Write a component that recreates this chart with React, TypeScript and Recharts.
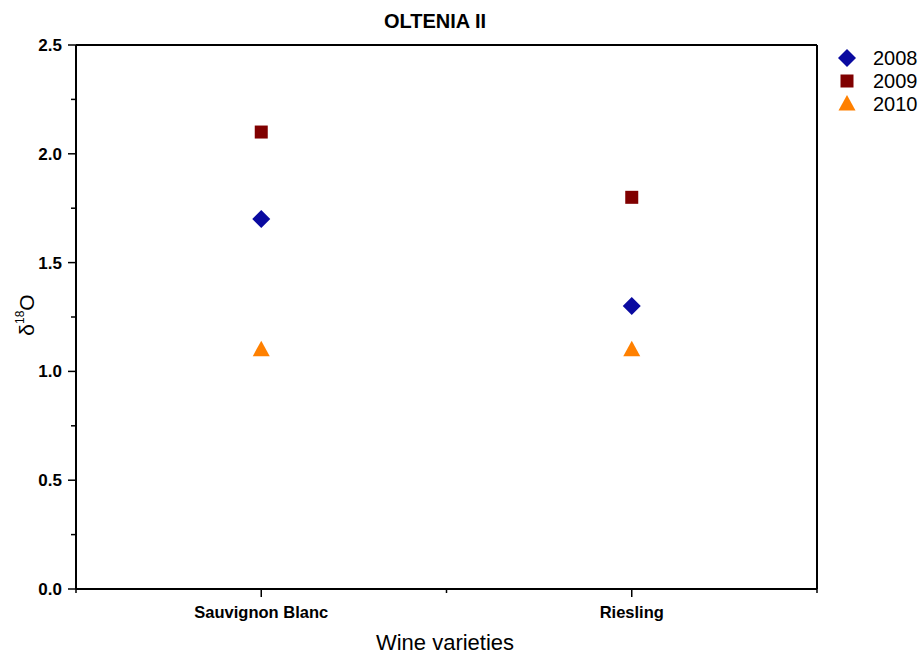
import React from "react";
import { ScatterChart, Scatter, XAxis, YAxis } from "recharts";

const categories = ["Sauvignon Blanc", "Riesling"];
const years = ["2008", "2009", "2010"];
const values2008 = [1.7, 1.3];
const values2009 = [2.1, 1.8];
const values2010 = [1.1, 1.1];
const yTicks = [0, 0.25, 0.5, 0.75, 1, 1.25, 1.5, 1.75, 2, 2.25, 2.5];
const xTicks = [0.5, 1, 1.5, 2, 2.5];

const colors = ["#0a0aa0", "#800000", "#ff8000"];
const FONT = "Arial, 'Liberation Sans', sans-serif";

const toPoints = (vals: number[]) =>
  categories.map((c, i) => ({ x: i + 1, y: vals[i], name: c }));

const Diamond = ({ cx, cy, fill }: any) => (
  <polygon
    points={`${cx},${cy - 9} ${cx + 9},${cy} ${cx},${cy + 9} ${cx - 9},${cy}`}
    fill={fill}
  />
);
const Square = ({ cx, cy, fill }: any) => (
  <rect x={cx - 6.5} y={cy - 6.5} width={13} height={13} fill={fill} />
);
const Triangle = ({ cx, cy, fill }: any) => (
  <polygon
    points={`${cx},${cy - 9} ${cx + 8.5},${cy + 6.5} ${cx - 8.5},${cy + 6.5}`}
    fill={fill}
  />
);
const shapes = [Diamond, Square, Triangle];

const BottomTick = ({ x, y, payload }: any) => {
  const idx = Math.round(payload.value) - 1;
  const major = Number.isInteger(payload.value);
  return (
    <g>
      <line x1={x} x2={x} y1={y} y2={y + (major ? 8 : 4)} stroke="#000" strokeWidth={1.5} />
      {major && (
        <text
          x={x}
          y={y + 29}
          textAnchor="middle"
          fontFamily={FONT}
          fontWeight="bold"
          fontSize={16.5}
          fill="#000"
        >
          {categories[idx]}
        </text>
      )}
    </g>
  );
};

const LeftTick = ({ x, y, payload }: any) => {
  const major = Math.abs((payload.value * 2) % 1) < 1e-9;
  return (
    <g>
      <line x1={x - (major ? 8 : 5)} x2={x} y1={y} y2={y} stroke="#000" strokeWidth={1.5} />
      {major && (
        <text
          x={x - 14}
          y={y + 6}
          textAnchor="end"
          fontFamily={FONT}
          fontWeight="bold"
          fontSize={17}
          fill="#000"
        >
          {payload.value.toFixed(1)}
        </text>
      )}
    </g>
  );
};

const RightTick = ({ x, y }: any) => (
  <line x1={x} x2={x + 2} y1={y} y2={y} stroke="#000" strokeWidth={1.5} />
);
const TopTick = ({ x, y }: any) => (
  <line x1={x} x2={x} y1={y} y2={y + 2} stroke="#000" strokeWidth={1.5} />
);

const YLabel = ({ viewBox }: any) => {
  const cx = 34;
  const cy = viewBox.y + viewBox.height / 2 - 2;
  return (
    <text
      transform={`translate(${cx},${cy}) rotate(-90)`}
      textAnchor="middle"
      fontFamily={FONT}
      fontSize={21}
      fill="#000"
    >
      δ
      <tspan fontSize={12} dy={-10}>
        18
      </tspan>
      <tspan dy={10}>O</tspan>
    </text>
  );
};

const LegendBox = () => (
  <svg width={90} height={80} style={{ position: "absolute", left: 835, top: 46 }}>
    {years.map((yr, i) => {
      const Shape = shapes[i];
      const cy = 12 + i * 23;
      return (
        <g key={yr}>
          <Shape cx={12} cy={cy} fill={colors[i]} />
          <text x={38} y={cy + 7} fontFamily={FONT} fontSize={20} fill="#000">
            {yr}
          </text>
        </g>
      );
    })}
  </svg>
);

const series = [values2008, values2009, values2010];

export default function App() {
  return (
    <div style={{ position: "absolute", left: 0, top: 0, width: 920, height: 655, background: "#fff" }}>
      <ScatterChart width={920} height={655} margin={{ top: 0, right: 0, bottom: 0, left: 0 }}>
        <XAxis
          xAxisId="b"
          type="number"
          dataKey="x"
          domain={[0.5, 2.5]}
          ticks={xTicks}
          interval={0}
          height={66}
          tickSize={0}
          tickMargin={0}
          tick={<BottomTick />}
          axisLine={{ stroke: "#000", strokeWidth: 2 }}
        />
        <XAxis
          xAxisId="t"
          orientation="top"
          type="number"
          domain={[0.5, 2.5]}
          ticks={xTicks}
          interval={0}
          height={45}
          tickSize={0}
          tickMargin={0}
          tick={<TopTick />}
          axisLine={{ stroke: "#000", strokeWidth: 2 }}
        />
        <YAxis
          yAxisId="l"
          type="number"
          dataKey="y"
          domain={[0, 2.5]}
          ticks={yTicks}
          interval={0}
          width={76}
          tickSize={0}
          tickMargin={0}
          tick={<LeftTick />}
          axisLine={{ stroke: "#000", strokeWidth: 2 }}
          label={<YLabel />}
        />
        <YAxis
          yAxisId="r"
          orientation="right"
          type="number"
          domain={[0, 2.5]}
          ticks={yTicks}
          interval={0}
          width={103}
          tickSize={0}
          tickMargin={0}
          tick={<RightTick />}
          axisLine={{ stroke: "#000", strokeWidth: 2 }}
        />
        {series.map((vals, i) => (
          <Scatter
            key={years[i]}
            name={years[i]}
            xAxisId="b"
            yAxisId="l"
            data={toPoints(vals)}
            fill={colors[i]}
            shape={shapes[i]}
            isAnimationActive={false}
          />
        ))}
      </ScatterChart>
      <div
        style={{
          position: "absolute",
          left: 335,
          width: 200,
          top: 10,
          textAlign: "center",
          fontFamily: FONT,
          fontWeight: "bold",
          fontSize: 20,
        }}
      >
        OLTENIA II
      </div>
      <div
        style={{
          position: "absolute",
          left: 345,
          width: 200,
          top: 630,
          textAlign: "center",
          fontFamily: FONT,
          fontSize: 22,
        }}
      >
        Wine varieties
      </div>
      <LegendBox />
    </div>
  );
}
